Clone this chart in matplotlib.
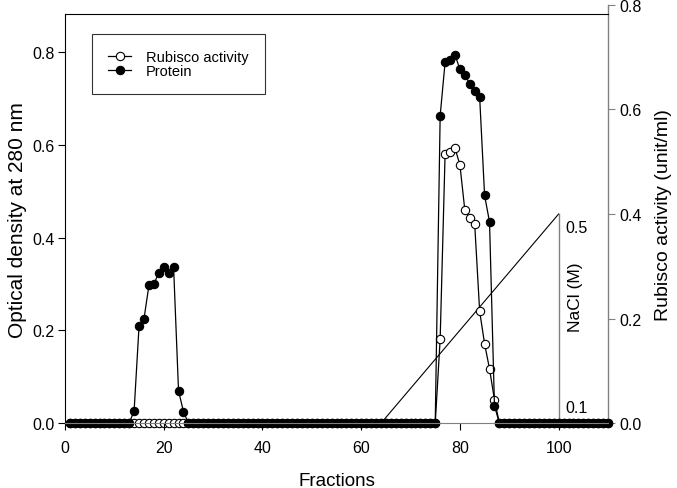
import matplotlib
matplotlib.use("Agg")
import matplotlib.pyplot as plt
import numpy as np

plt.rcParams['font.family'] = ['Liberation Sans', 'DejaVu Sans']

fractions = list(range(1, 111))

# Protein (OD 280) non-zero fractions
protein_peak1_x = [14, 15, 16, 17, 18, 19, 20, 21, 22, 23, 24]
protein_peak1_y = [0.027, 0.209, 0.225, 0.297, 0.300, 0.324, 0.336, 0.324, 0.336, 0.070, 0.025]
protein_peak2_x = [76, 77, 78, 79, 80, 81, 82, 83, 84, 85, 86, 87]
protein_peak2_y = [0.663, 0.778, 0.783, 0.794, 0.763, 0.751, 0.731, 0.717, 0.703, 0.491, 0.434, 0.038]

# Rubisco activity (unit/ml) non-zero fractions
rubisco_peak_x = [76, 77, 78, 79, 80, 81, 82, 83, 84, 85, 86, 87]
rubisco_peak_y = [0.161, 0.515, 0.519, 0.526, 0.494, 0.407, 0.393, 0.380, 0.214, 0.152, 0.104, 0.045]

# NaCl gradient (drawn on right-axis scale)
nacl_x = [64, 100]
nacl_y = [0.0, 0.4]

protein = {f: 0.0 for f in fractions}
for x, y in zip(protein_peak1_x + protein_peak2_x, protein_peak1_y + protein_peak2_y):
    protein[x] = y
rubisco = {f: 0.0 for f in fractions}
for x, y in zip(rubisco_peak_x, rubisco_peak_y):
    rubisco[x] = y
protein_vals = [protein[f] for f in fractions]
rubisco_vals = [rubisco[f] for f in fractions]

W, H = 677, 489
fig = plt.figure(figsize=(W / 100, H / 100), dpi=100)
left, right_px, bottom_px = 65, 608, 424.3
ax1 = fig.add_axes([left / W, (H - bottom_px) / H, (right_px - left) / W, (bottom_px - 15) / H])
ax2 = fig.add_axes([left / W, (H - bottom_px) / H, (right_px - left) / W, (bottom_px - 5.7) / H])

ax1.set_zorder(ax2.get_zorder() + 1)
ax1.patch.set_visible(False)

# Rubisco on right axis
l_rub, = ax2.plot(fractions, rubisco_vals, '-o', color='black', lw=0.9,
                  markerfacecolor='white', markeredgecolor='black', markersize=6,
                  markeredgewidth=0.8, clip_on=False, label='Rubisco activity')
# NaCl gradient
ax2.plot(nacl_x, nacl_y, color='black', lw=0.8, zorder=1)
ax2.plot([nacl_x[1], nacl_x[1]], [0, nacl_y[1]], color='#808080', lw=1.0, zorder=1)

# Protein on left axis
l_pro, = ax1.plot(fractions, protein_vals, '-o', color='black', lw=0.9,
                  markerfacecolor='black', markeredgecolor='black', markersize=6,
                  markeredgewidth=0.8, clip_on=False, label='Protein')

for ax in (ax1, ax2):
    ax.set_xlim(0, 110)
ax1.set_ylim(0, 0.882)
ax2.set_ylim(0, 0.8)

ax1.set_xticks([0, 20, 40, 60, 80, 100])
ax1.set_yticks([0.0, 0.2, 0.4, 0.6, 0.8])
ax1.yaxis.set_major_formatter(matplotlib.ticker.FormatStrFormatter('%.1f'))
ax1.tick_params(axis='both', direction='out', length=5, width=0.8, labelsize=11.5, colors='black')
ax1.tick_params(axis='x', pad=7)
ax1.tick_params(axis='y', pad=2.5)
ax1.spines['right'].set_visible(False)
ax1.spines['bottom'].set_color('#808080')
for s in ('left', 'top'):
    ax1.spines[s].set_linewidth(0.8)

ax2.set_xticks([])
ax2.yaxis.tick_right()
ax2.yaxis.set_label_position('right')
ax2.set_yticks([0.0, 0.2, 0.4, 0.6, 0.8])
ax2.yaxis.set_major_formatter(matplotlib.ticker.FormatStrFormatter('%.1f'))
ax2.tick_params(axis='y', direction='out', length=5, width=0.8, labelsize=11.5, color='#808080')
for s in ('left', 'top', 'bottom'):
    ax2.spines[s].set_visible(False)
ax2.spines['right'].set_color('#808080')
ax2.spines['right'].set_linewidth(1.0)
ax2.patch.set_visible(False)

ax1.set_xlabel('Fractions', fontsize=13.5, labelpad=12)
ax1.set_ylabel('Optical density at 280 nm', fontsize=15, labelpad=3.5)
ax2.set_ylabel('Rubisco activity (unit/ml)', fontsize=14, labelpad=9)

# NaCl annotations
ax2.text(101.4, 0.375, '0.5', fontsize=11.5, ha='left', va='center')
ax2.text(101.4, 0.03, '0.1', fontsize=11.5, ha='left', va='center')
ax2.text(103.4, 0.243, 'NaCl (M)', fontsize=12.5, ha='center', va='center', rotation=90)

leg = ax1.legend(handles=[l_rub, l_pro], loc='upper left',
                 bbox_to_anchor=(92 / W, 1 - 35 / H), bbox_transform=fig.transFigure,
                 frameon=True, fancybox=False, edgecolor='black', fontsize=10.5,
                 handlelength=1.6, handletextpad=1.0, borderpad=1.1,
                 labelspacing=0.0, borderaxespad=0)
leg.get_frame().set_linewidth(0.8)

fig.savefig('out.png', dpi=100)
